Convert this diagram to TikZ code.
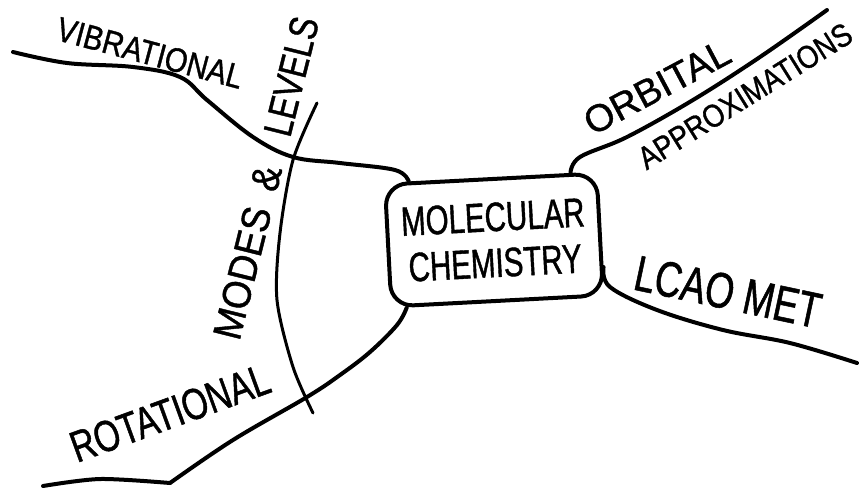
\documentclass[tikz,border=0pt]{standalone}
\usepackage{fontspec}
\setmainfont{Liberation Sans}
\usetikzlibrary{positioning, calc}

\begin{document}
\begin{tikzpicture}[x=1pt, y=-1pt, hub/.style={draw, line width=4pt, rounded corners=22pt, minimum width=212pt, minimum height=122pt, align=center, inner sep=2pt, font=\fontsize{41}{46}\selectfont\addfontfeature{FakeStretch=0.72, FakeBold=1}}, lbl/.style 2 args={font=\fontsize{#1}{#1}\selectfont\addfontfeature{FakeStretch=#2, FakeBold=1}, inner sep=0pt}, branch/.style={line width=4pt, line cap=round, line join=round}, ridge/.style={line width=3pt, line cap=round}]
\useasboundingbox (0,0) rectangle (860,491);
% centre
\node[hub, rotate=3] (hub) at (494,240) {MOLECULAR\\CHEMISTRY};
% branch labels
\node[lbl={34}{0.86}, rotate=-15] (vib) at (150,53) {VIBRATIONAL};
\node[lbl={44}{0.76}, rotate=20] (rot) at (170,413) {ROTATIONAL};
\node[lbl={40}{0.92}, rotate=76] (modes) at (266,178) {MODES\hspace{0.45em}\&\hspace{0.8em}\addfontfeature{FakeStretch=0.8}LEVELS};
\node[lbl={38}{1.0}, rotate=28] (orb) at (657,87) {ORBITAL};
\node[lbl={32}{0.86}, rotate=32] (approx) at (745,96) {APPROXIMATIONS};
\node[lbl={50}{0.74}, rotate=-12] (lcao) at (728,292) {LCAO MET};
% branch ends
\coordinate (vibStart) at ($(hub.north west)!0.12!(hub.north east)$);
\coordinate (rotStart) at ($(hub.south west)!0.08!(hub.south east)$);
\coordinate (orbStart) at ($(hub.north east)!0.13!(hub.north west)$);
\coordinate (lcaoStart) at ($(hub.north east)!0.76!(hub.south east)$);
\coordinate (vibEnd) at (13,52); \coordinate (rotKink) at (170,483); \coordinate (rotEnd) at (43,486);
\coordinate (orbEnd) at (827,10); \coordinate (lcaoEnd) at (857,363);
\coordinate (arcTop) at (317,103); \coordinate (arcBot) at (313,413);
% branches
\draw[branch] plot[smooth, tension=0.6] coordinates {(vibStart) (395,170) (340,163) (293,157) (253,137) (207,100) (180,77) (133,67) (67,63) (vibEnd)};
\draw[branch] plot[smooth, tension=0.6] coordinates {(rotStart) (397,325) (370,352) (340,375) (307,397) (233,440) (rotKink)};
\draw[branch] plot[smooth] coordinates {(rotKink) (100,479) (rotEnd)};
\draw[branch] plot[smooth, tension=0.6] coordinates {(orbStart) (580,157) (627,137) (693,100) (760,57) (orbEnd)};
\draw[branch] plot[smooth, tension=0.6] coordinates {(lcaoStart) (610,287) (657,310) (723,330) (790,343) (lcaoEnd)};
\draw[ridge] plot[smooth] coordinates {(arcTop) (293,160) (280,233) (277,300) (293,367) (arcBot)};
\end{tikzpicture}
\end{document}
